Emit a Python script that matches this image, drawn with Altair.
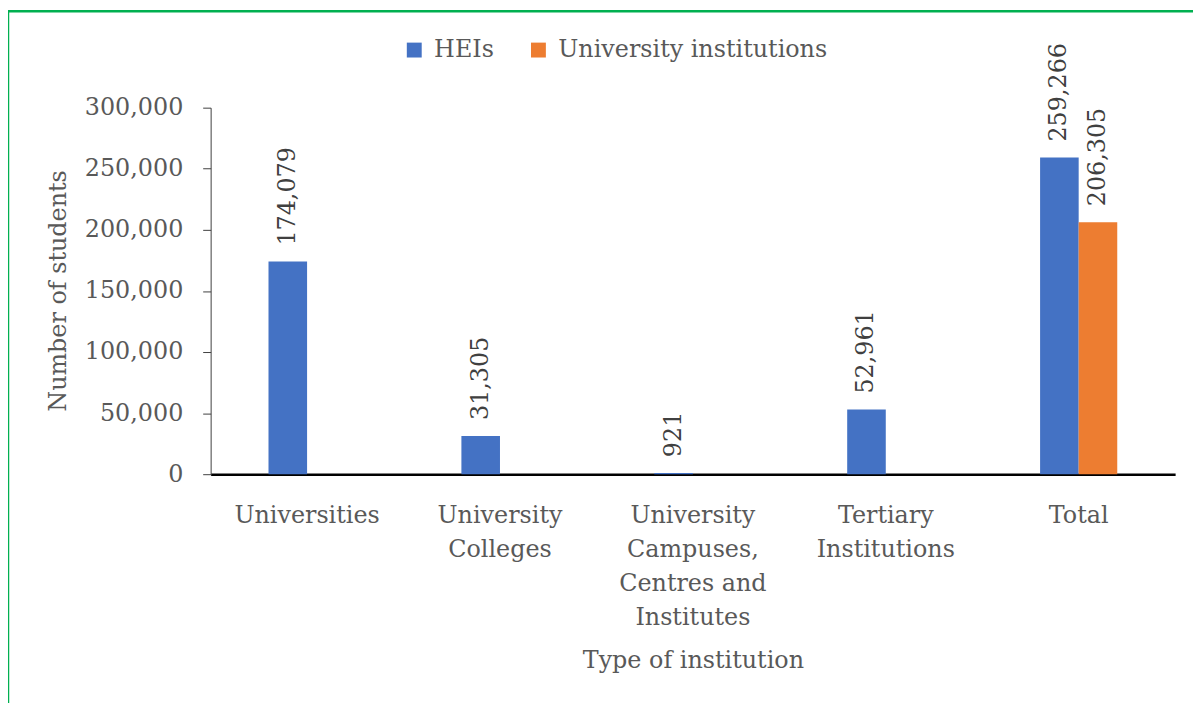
import altair as alt
import pandas as pd

categories = ["Universities", "University\nColleges", "University\nCampuses,\nCentres and\nInstitutes",
              "Tertiary\nInstitutions", "Total"]
series = ["HEIs", "University institutions"]
hei_values = [174079, 31305, 921, 52961, 259266]
ui_category = ["Total"]
ui_values = [206305]
y_ticks = [0, 50000, 100000, 150000, 200000, 250000, 300000]

rows = [{"cat": c, "series": "HEIs", "value": v} for c, v in zip(categories, hei_values)]
rows += [{"cat": c, "series": "University institutions", "value": v} for c, v in zip(ui_category, ui_values)]
df = pd.DataFrame(rows)

FONT = "DejaVu Serif"
GRAY = "#595959"

x_enc = alt.X("cat:N", sort=categories, title="Type of institution",
              scale=alt.Scale(paddingInner=0.6, paddingOuter=0.3),
              axis=alt.Axis(labelAngle=0, labelExpr="split(datum.label, '\\n')",
                            labelLineHeight=34, ticks=False, labelPadding=30,
                            domainColor="#000000", domainWidth=2.5,
                            titlePadding=20))
y_enc = alt.Y("value:Q", title="Number of students",
              scale=alt.Scale(domain=[0, 300000]),
              axis=alt.Axis(values=y_ticks, labelExpr="format(datum.value, ',.0f')",
                            grid=False, tickSize=8,
                            tickColor="#404040", domainColor="#404040",
                            labelPadding=20, titleX=-153, titleY=184, titleAngle=270,
                            titleAlign="center", titleBaseline="middle"))
off = alt.XOffset("series:N", scale=alt.Scale(domain=series))
col = alt.Color("series:N", scale=alt.Scale(domain=series, range=["#4472C4", "#ED7D31"]),
                legend=alt.Legend(orient="none", legendX=193, legendY=-70, direction="horizontal",
                                  title=None, symbolType="square", symbolSize=225,
                                  symbolStrokeWidth=0, labelFontSize=24, labelColor=GRAY,
                                  columnPadding=32, labelOffset=8, labelLimit=0))

bars = alt.Chart(df).mark_bar().encode(x=x_enc, y=y_enc, xOffset=off, color=col)
labels = alt.Chart(df).mark_text(angle=270, align="left", baseline="middle", dx=16,
                                 fontSize=24, color="#404040").encode(
    x=x_enc, y=y_enc, xOffset=off,
    text=alt.Text("value:Q", format=","))

frame = pd.DataFrame([{"k": 1}])
top_line = alt.Chart(frame).mark_rule(color="#00B050", strokeWidth=2.5).encode(
    x=alt.value(-204), x2=alt.value(1000), y=alt.value(-97))
left_line = alt.Chart(frame).mark_rule(color="#00B050", strokeWidth=2.5).encode(
    x=alt.value(-204), y=alt.value(-97), y2=alt.value(600))

chart = alt.layer(bars, labels, top_line, left_line).properties(
    width=971, height=369,
    padding={"left": 204, "top": 98, "right": 18, "bottom": 228},
    autosize=alt.AutoSizeParams(type="none"),
).configure(font=FONT).configure_axis(
    labelFontSize=24, titleFontSize=24, labelColor=GRAY, titleColor=GRAY,
    titleFontWeight="normal", labelFont=FONT, titleFont=FONT
).configure_view(stroke=None).configure_legend(labelFont=FONT)

chart.save("out.html", embed_options={"renderer": "svg", "actions": False})
